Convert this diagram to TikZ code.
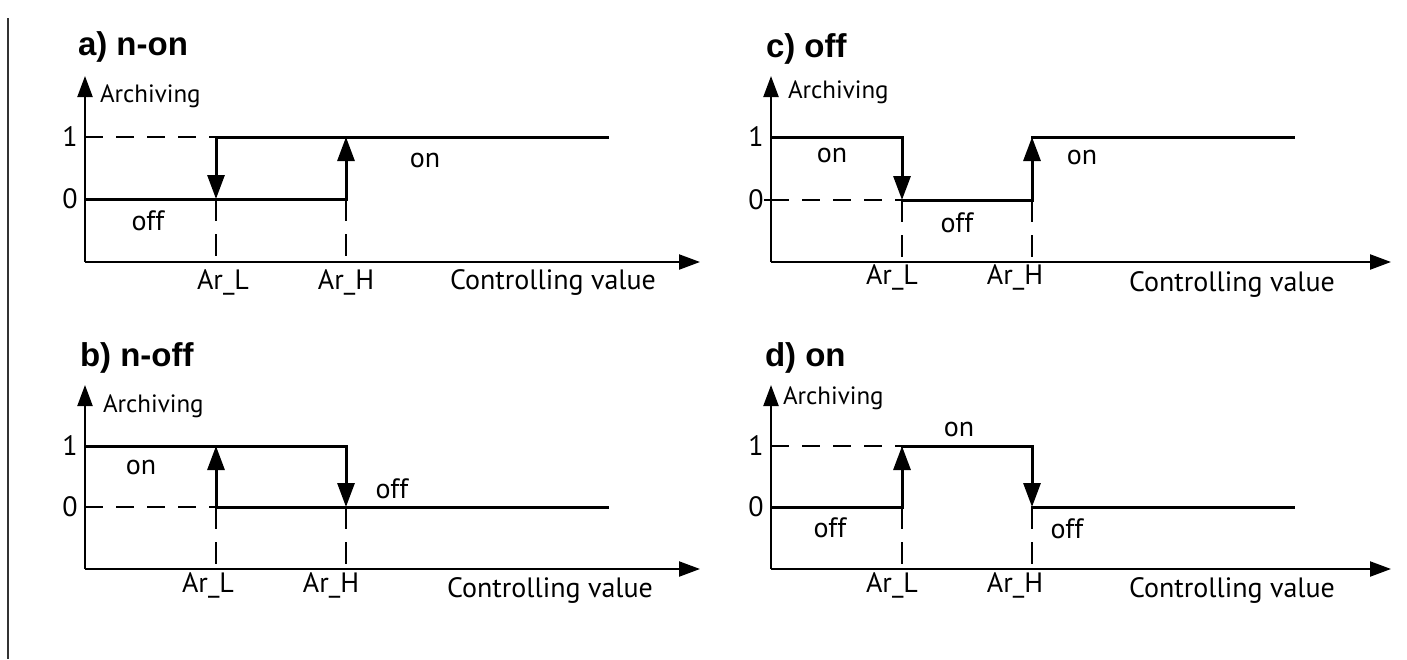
\documentclass[tikz,border=0pt]{standalone}
\usepackage{fontspec}
\setmainfont{PT Sans}
\newfontfamily\titlefont{Liberation Sans}
\usetikzlibrary{arrows.meta}
\tikzset{
  every node/.style={inner sep=0pt, outer sep=0pt},
  axis/.style={line width=2.2pt, -{Triangle[length=21pt,width=15pt]}},
  level/.style={line width=3pt, line cap=rect},
  guide/.style={line width=2pt, dash pattern=on 22pt off 13pt},
  hguide/.style={line width=1.8pt, dash pattern=on 18pt off 13pt},
  trans/.style={line width=3pt, -{Triangle[length=24pt,width=17pt]}},
  ptitle/.style={font={\titlefont\bfseries\fontsize{33}{37}\selectfont}, anchor=west},
  ylab/.style={font={\fontsize{25}{29}\selectfont}, anchor=west},
  lbl/.style={font={\fontsize{28}{32}\selectfont}},
  border/.style={line width=1.8pt, draw=black!80}
}
\begin{document}
\begin{tikzpicture}[x=1pt,y=-1pt]
\useasboundingbox (0,0) rectangle (1407,659);
\fill[white] (0,0) rectangle (1407,659);
% left border
\coordinate (bt) at (8,18);
\coordinate (bb) at (8,659);
\draw[border] (bt) -- (bb);

% ================= panel a =================
\node[ptitle] (a-title) at (78,47) {a) n-on};
\coordinate (a-o) at (85,262);
\coordinate (a-yt) at (85,76);
\coordinate (a-xt) at (700,262);
\coordinate (a-Y1) at (85,137);
\coordinate (a-Y0) at (85,199);
\coordinate (a-L1) at (216,137);
\coordinate (a-L0) at (216,199);
\coordinate (a-Lb) at (216,262);
\coordinate (a-H1) at (346,137);
\coordinate (a-H0) at (346,199);
\coordinate (a-Hb) at (346,262);
\coordinate (a-E1) at (607,137);
\draw[axis] (a-o) -- (a-yt);
\draw[axis] (a-o) -- (a-xt);
\draw[hguide] (a-Y1) -- (a-L1);
\draw[level] (a-L1) -- (a-E1);
\draw[level] (a-Y0) -- (a-H0);
\draw[trans] (a-L1) -- (a-L0);
\draw[trans] (a-H0) -- (a-H1);
\draw[guide] (a-L0) -- (a-Lb);
\draw[guide] (a-H0) -- (a-Hb);
\node[ylab] (a-arch) at (100,96) {Archiving};
\node[lbl] (a-one) at (70,137) {1};
\node[lbl] (a-zero) at (70,199) {0};
\node[lbl] (a-on) at (425,160) {on};
\node[lbl] (a-off) at (148,221) {off};
\node[lbl] (a-arl) at (223,282) {Ar\_L};
\node[lbl] (a-arh) at (346,282) {Ar\_H};
\node[lbl] (a-cv) at (553,282) {Controlling value};

% ================= panel c =================
\node[ptitle] (c-title) at (766,49) {c) off};
\coordinate (c-o) at (771,262);
\coordinate (c-yt) at (771,76);
\coordinate (c-xt) at (1391,262);
\coordinate (c-Y1) at (771,137);
\coordinate (c-Y0) at (771,200);
\coordinate (c-L1) at (902,137);
\coordinate (c-L0) at (902,200);
\coordinate (c-Lb) at (902,262);
\coordinate (c-H1) at (1032,137);
\coordinate (c-H0) at (1032,200);
\coordinate (c-Hb) at (1032,262);
\coordinate (c-E1) at (1293,137);
\coordinate (c-tick) at (764,200);
\draw[axis] (c-o) -- (c-yt);
\draw[axis] (c-o) -- (c-xt);
\draw[level] (c-Y1) -- (c-L1);
\draw[level] (c-H1) -- (c-E1);
\draw[hguide] (c-Y0) -- (c-L0);
\draw[line width=1.6pt] (c-tick) -- (c-Y0);
\draw[level] (c-L0) -- (c-H0);
\draw[trans] (c-L1) -- (c-L0);
\draw[trans] (c-H0) -- (c-H1);
\draw[guide] (c-L0) -- (c-Lb);
\draw[guide] (c-H0) -- (c-Hb);
\node[ylab] (c-arch) at (788,92) {Archiving};
\node[lbl] (c-one) at (756,137) {1};
\node[lbl] (c-zero) at (756,200) {0};
\node[lbl] (c-on1) at (832,155) {on};
\node[lbl] (c-on2) at (1082,157) {on};
\node[lbl] (c-off) at (957,223) {off};
\node[lbl] (c-arl) at (892,277) {Ar\_L};
\node[lbl] (c-arh) at (1015,277) {Ar\_H};
\node[lbl] (c-cv) at (1232,284) {Controlling value};

% ================= panel b =================
\node[ptitle] (b-title) at (80,358) {b) n-off};
\coordinate (b-o) at (85,569);
\coordinate (b-yt) at (85,385);
\coordinate (b-xt) at (700,569);
\coordinate (b-Y1) at (85,446);
\coordinate (b-Y0) at (85,507);
\coordinate (b-L1) at (216,446);
\coordinate (b-L0) at (216,507);
\coordinate (b-Lb) at (216,569);
\coordinate (b-H1) at (346,446);
\coordinate (b-H0) at (346,507);
\coordinate (b-Hb) at (346,569);
\coordinate (b-E0) at (607,507);
\draw[axis] (b-o) -- (b-yt);
\draw[axis] (b-o) -- (b-xt);
\draw[level] (b-Y1) -- (b-H1);
\draw[hguide] (b-Y0) -- (b-L0);
\draw[level] (b-L0) -- (b-E0);
\draw[trans] (b-L0) -- (b-L1);
\draw[trans] (b-H1) -- (b-H0);
\draw[guide] (b-L0) -- (b-Lb);
\draw[guide] (b-H0) -- (b-Hb);
\node[ylab] (b-arch) at (103,406) {Archiving};
\node[lbl] (b-one) at (70,446) {1};
\node[lbl] (b-zero) at (70,507) {0};
\node[lbl] (b-on) at (141,467) {on};
\node[lbl] (b-off) at (392,489) {off};
\node[lbl] (b-arl) at (208,585) {Ar\_L};
\node[lbl] (b-arh) at (331,585) {Ar\_H};
\node[lbl] (b-cv) at (550,590) {Controlling value};

% ================= panel d =================
\node[ptitle] (d-title) at (765,358) {d) on};
\coordinate (d-o) at (771,569);
\coordinate (d-yt) at (771,385);
\coordinate (d-xt) at (1391,569);
\coordinate (d-Y1) at (771,446);
\coordinate (d-Y0) at (771,507);
\coordinate (d-L1) at (902,446);
\coordinate (d-L0) at (902,507);
\coordinate (d-Lb) at (902,569);
\coordinate (d-H1) at (1032,446);
\coordinate (d-H0) at (1032,507);
\coordinate (d-Hb) at (1032,569);
\coordinate (d-E0) at (1293,507);
\draw[axis] (d-o) -- (d-yt);
\draw[axis] (d-o) -- (d-xt);
\draw[hguide] (d-Y1) -- (d-L1);
\draw[level] (d-L1) -- (d-H1);
\draw[level] (d-Y0) -- (d-L0);
\draw[level] (d-H0) -- (d-E0);
\draw[trans] (d-L0) -- (d-L1);
\draw[trans] (d-H1) -- (d-H0);
\draw[guide] (d-L0) -- (d-Lb);
\draw[guide] (d-H0) -- (d-Hb);
\node[ylab] (d-arch) at (783,398) {Archiving};
\node[lbl] (d-one) at (756,446) {1};
\node[lbl] (d-zero) at (756,507) {0};
\node[lbl] (d-on) at (959,429) {on};
\node[lbl] (d-off1) at (830,528) {off};
\node[lbl] (d-off2) at (1067,529) {off};
\node[lbl] (d-arl) at (892,585) {Ar\_L};
\node[lbl] (d-arh) at (1015,585) {Ar\_H};
\node[lbl] (d-cv) at (1232,590) {Controlling value};
\end{tikzpicture}
\end{document}
